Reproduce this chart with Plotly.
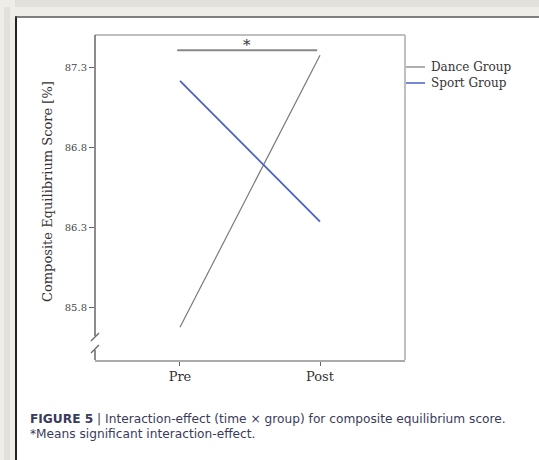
import plotly.graph_objects as go

# ---- data ----
time_points = ["Pre", "Post"]
dance_group = [85.68, 87.38]
sport_group = [87.22, 86.34]
series_names = ["Dance Group", "Sport Group"]
y_ticks = [85.8, 86.3, 86.8, 87.3]
y_title = "Composite Equilibrium Score [%]"
caption_1 = "<b>FIGURE 5</b> | Interaction-effect (time \u00d7 group) for composite equilibrium score."
caption_2 = "*Means significant interaction-effect."

W, H = 539, 460
L, R, T, B = 95, 405, 35, 360


def px(x):
    return (x - L) / (R - L)


def py(y):
    return (B - y) / (B - T)


SERIF = "DejaVu Serif, serif"
SANS = "DejaVu Sans, sans-serif"
TXT = "#333333"

fig = go.Figure()
fig.add_trace(go.Scatter(x=[0, 1], y=dance_group, mode="lines", name=series_names[0],
                         line=dict(color="#7a7a7a", width=1.2), showlegend=False))
fig.add_trace(go.Scatter(x=[0, 1], y=sport_group, mode="lines", name=series_names[1],
                         line=dict(color="#4a62c4", width=1.8), showlegend=False))

shapes = []
# page background strips (left and top) around the white card
shapes.append(dict(type="rect", xref="paper", yref="paper", x0=px(0), x1=px(W),
                   y0=py(16), y1=py(0), fillcolor="#eeede8", line=dict(width=0), layer="below"))
shapes.append(dict(type="rect", xref="paper", yref="paper", x0=px(0), x1=px(W),
                   y0=py(7), y1=py(0), fillcolor="#e2e0da", line=dict(width=0), layer="below"))
shapes.append(dict(type="rect", xref="paper", yref="paper", x0=px(0), x1=px(15),
                   y0=py(H), y1=py(0), fillcolor="#eeede8", line=dict(width=0), layer="below"))
shapes.append(dict(type="rect", xref="paper", yref="paper", x0=px(4), x1=px(10),
                   y0=py(H), y1=py(7), fillcolor="#e2e0da", line=dict(width=0), layer="below"))
# card border left/top
shapes.append(dict(type="line", xref="paper", yref="paper", x0=px(16), x1=px(16),
                   y0=py(16), y1=py(H + 10), line=dict(color="#222", width=2)))
shapes.append(dict(type="line", xref="paper", yref="paper", x0=px(15), x1=px(W + 10),
                   y0=py(17), y1=py(17), line=dict(color="#555", width=1.5)))
# frame: top, right
shapes.append(dict(type="line", xref="paper", yref="paper", x0=0, x1=1, y0=1, y1=1,
                   line=dict(color="#aaaaaa", width=1.5)))
shapes.append(dict(type="line", xref="paper", yref="paper", x0=1, x1=1, y0=0, y1=1,
                   line=dict(color="#aaaaaa", width=1.5)))
# left axis with break
shapes.append(dict(type="line", xref="paper", yref="paper", x0=0, x1=0, y0=py(336), y1=1,
                   line=dict(color="#666", width=1.5)))
shapes.append(dict(type="line", xref="paper", yref="paper", x0=0, x1=0, y0=0, y1=py(350),
                   line=dict(color="#666", width=1.5)))
shapes.append(dict(type="line", xref="paper", yref="paper", x0=px(91), x1=px(99), y0=py(341), y1=py(333),
                   line=dict(color="#666", width=1.2)))
shapes.append(dict(type="line", xref="paper", yref="paper", x0=px(91), x1=px(99), y0=py(353), y1=py(345),
                   line=dict(color="#666", width=1.2)))
# significance bracket
shapes.append(dict(type="line", xref="x", yref="y", x0=-0.02, x1=0.98, y0=87.41, y1=87.41,
                   line=dict(color="#888", width=2)))
# manual legend lines
shapes.append(dict(type="line", xref="paper", yref="paper", x0=px(406), x1=px(425), y0=py(67), y1=py(67),
                   line=dict(color="#7a7a7a", width=1.2)))
shapes.append(dict(type="line", xref="paper", yref="paper", x0=px(406), x1=px(425), y0=py(83), y1=py(83),
                   line=dict(color="#4a62c4", width=1.5)))

annotations = [
    dict(x=0.48, y=87.41, xref="x", yref="y", text="*", showarrow=False, yanchor="bottom",
         font=dict(family=SERIF, size=15, color=TXT), yshift=-6),
    dict(x=px(429), y=py(67), xref="paper", yref="paper", text=series_names[0], showarrow=False,
         xanchor="left", yanchor="middle", font=dict(family=SERIF, size=12, color=TXT)),
    dict(x=px(429), y=py(83), xref="paper", yref="paper", text=series_names[1], showarrow=False,
         xanchor="left", yanchor="middle", font=dict(family=SERIF, size=12, color=TXT)),
    dict(x=px(47), y=py(192), xref="paper", yref="paper", text=y_title, showarrow=False,
         textangle=-90, xanchor="center", yanchor="middle", font=dict(family=SERIF, size=13, color=TXT)),
    dict(x=px(28), y=py(419), xref="paper", yref="paper", text=caption_1, showarrow=False,
         xanchor="left", yanchor="middle", font=dict(family=SANS, size=12.2, color="#3a3a5a")),
    dict(x=px(28), y=py(434), xref="paper", yref="paper", text=caption_2, showarrow=False,
         xanchor="left", yanchor="middle", font=dict(family=SANS, size=12.2, color="#3a3a5a")),
]

fig.update_layout(
    width=W, height=H,
    margin=dict(l=L, r=W - R, t=T, b=H - B, pad=0),
    paper_bgcolor="white",
    plot_bgcolor="white",
    shapes=shapes,
    annotations=annotations,
    showlegend=False,
    xaxis=dict(range=[-0.607, 1.607], tickvals=[0, 1], ticktext=time_points,
               showline=True, linecolor="#aaaaaa", linewidth=1.5, mirror=False,
               ticks="outside", ticklen=4, tickcolor="#666", showgrid=False, zeroline=False,
               tickfont=dict(family=SERIF, size=13, color=TXT)),
    yaxis=dict(range=[85.475, 87.506], tickvals=y_ticks, ticktext=[f"{v:.1f}" for v in y_ticks],
               showline=False, ticks="outside", ticklen=5, tickcolor="#666",
               showgrid=False, zeroline=False,
               tickfont=dict(family=SERIF, size=10, color="#444")),
)

fig.write_html("out.html", config={"displayModeBar": False},
               post_script="document.body.style.margin='0';document.body.style.overflow='hidden';")
